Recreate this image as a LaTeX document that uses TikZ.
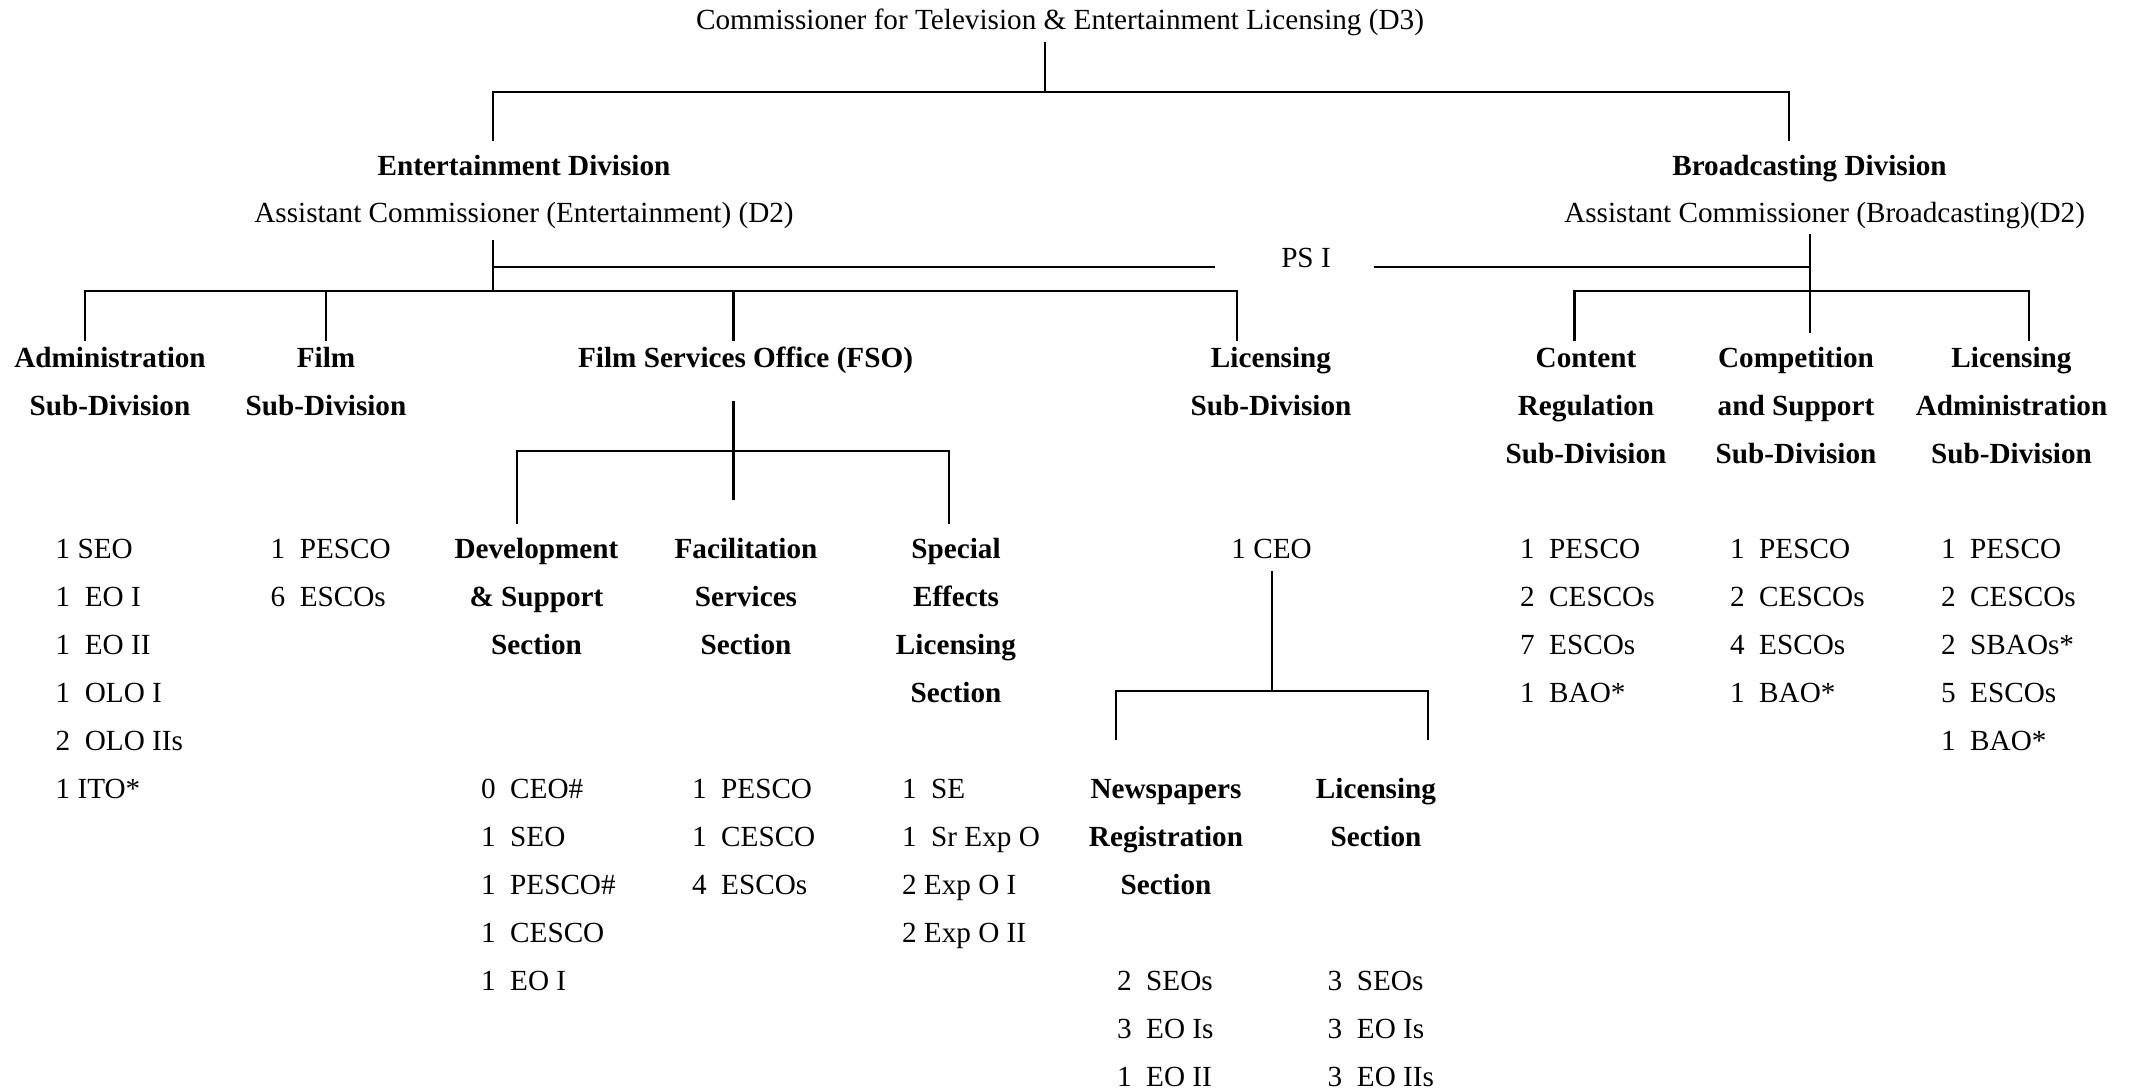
\documentclass[tikz,border=0pt]{standalone}
\usepackage{fontspec}
\setmainfont{Liberation Serif}
\newcommand{\cstack}[1]{\begin{tabular}[t]{@{}c@{}}#1\end{tabular}}
\newcommand{\lstack}[1]{\begin{tabular}[t]{@{}l@{}}#1\end{tabular}}
\begin{document}
\begin{tikzpicture}[x=0.5pt,y=-0.5pt,
  txt/.style={inner sep=0pt,outer sep=0pt,font=\fontsize{14.6}{24}\selectfont},
  hd/.style={txt,font=\fontsize{14.6}{24}\selectfont\bfseries},
  conn/.style={line width=1.1pt,line cap=rect}]
\useasboundingbox[fill=white] (0,0) rectangle (2132,1092);
% ---- texts
\node[txt,anchor=base] (title) at (1060,29) {Commissioner for Television \& Entertainment Licensing (D3)};
\node[hd,anchor=base] (entdiv) at (524,175) {Entertainment Division};
\node[txt,anchor=base] (entac) at (524,222) {Assistant Commissioner (Entertainment) (D2)};
\node[hd,anchor=base] (brdiv) at (1809.5,175) {Broadcasting Division};
\node[txt,anchor=base] (brac) at (1824.6,222) {Assistant Commissioner (Broadcasting)(D2)};
\node[txt,anchor=base] (psi) at (1306,267) {PS I};
% level 2
\node[hd,anchor=base] (admin) at (110,367) {\cstack{Administration\\Sub-Division}};
\node[hd,anchor=base] (film) at (326,367) {\cstack{Film\\Sub-Division}};
\node[hd,anchor=base] (fso) at (745.5,367) {Film Services Office (FSO)};
\node[hd,anchor=base] (licsub) at (1271,367) {\cstack{Licensing\\Sub-Division}};
\node[hd,anchor=base] (content) at (1586,367) {\cstack{Content\\Regulation\\Sub-Division}};
\node[hd,anchor=base] (compet) at (1796,367) {\cstack{Competition\\and Support\\Sub-Division}};
\node[hd,anchor=base] (licadm) at (2011.5,367) {\cstack{Licensing\\Administration\\Sub-Division}};
% lists and sections
\node[txt,anchor=base west] (adminlist) at (55.7,558) {\lstack{1 SEO\\1~~EO I\\1~~EO II\\1~~OLO I\\2~~OLO IIs\\1 ITO*}};
\node[txt,anchor=base west] (filmlist) at (270.6,558) {\lstack{1~~PESCO\\6~~ESCOs}};
\node[hd,anchor=base] (dev) at (536.5,558) {\cstack{Development\\\& Support\\Section}};
\node[hd,anchor=base] (facil) at (746,558) {\cstack{Facilitation\\Services\\Section}};
\node[hd,anchor=base] (special) at (956,558) {\cstack{Special\\Effects\\Licensing\\Section}};
\node[txt,anchor=base] (ceo) at (1271.6,558) {1 CEO};
\node[txt,anchor=base west] (contentlist) at (1520,558) {\lstack{1~~PESCO\\2~~CESCOs\\7~~ESCOs\\1~~BAO*}};
\node[txt,anchor=base west] (competlist) at (1730,558) {\lstack{1~~PESCO\\2~~CESCOs\\4~~ESCOs\\1~~BAO*}};
\node[txt,anchor=base west] (licadmlist) at (1941,558) {\lstack{1~~PESCO\\2~~CESCOs\\2~~SBAOs*\\5~~ESCOs\\1~~BAO*}};
\node[txt,anchor=base west] (devlist) at (481,798) {\lstack{0~~CEO\#\\1~~SEO\\1~~PESCO\#\\1~~CESCO\\1~~EO I}};
\node[txt,anchor=base west] (faclist) at (692,798) {\lstack{1~~PESCO\\1~~CESCO\\4~~ESCOs}};
\node[txt,anchor=base west] (speclist) at (902,798) {\lstack{1~~SE\\1~~Sr Exp O\\2 Exp O I\\2 Exp O II}};
\node[hd,anchor=base] (news) at (1166,798) {\cstack{Newspapers\\Registration\\Section}};
\node[hd,anchor=base] (licsec) at (1376,798) {\cstack{Licensing\\Section}};
\node[txt,anchor=base west] (newslist) at (1117,990) {\lstack{2~~SEOs\\3~~EO Is\\1~~EO II}};
\node[txt,anchor=base west] (licseclist) at (1327.7,990) {\lstack{3~~SEOs\\3~~EO Is\\3~~EO IIs}};
% ---- connector coordinates
\coordinate (t0) at (1045,43);   \coordinate (t1) at (1045,92);
\coordinate (tl) at (493,92);    \coordinate (tr) at (1789,92);
\coordinate (tld) at (493,140);  \coordinate (trd) at (1789,140);
\coordinate (e0) at (493,241);   \coordinate (e1) at (493,291);
\coordinate (p0) at (493,267);   \coordinate (p1) at (1214,267);
\coordinate (p2) at (1375,267);  \coordinate (p3) at (1809,267);
\coordinate (b0) at (1810,235);  \coordinate (b1) at (1810,332);
\coordinate (la) at (85,291);    \coordinate (lb) at (1237,291);
\coordinate (la2) at (85,340);   \coordinate (lf) at (326,291);  \coordinate (lf2) at (326,340);
\coordinate (lo) at (733.5,291); \coordinate (lo2) at (733.5,340);
\coordinate (lb2) at (1237,340);
\coordinate (ra) at (1574.5,291); \coordinate (rb) at (2029,291);
\coordinate (ra2) at (1574.5,340); \coordinate (rb2) at (2029,340);
\coordinate (f0) at (733.5,402); \coordinate (f1) at (733.5,499);
\coordinate (fa) at (517,451);   \coordinate (fb) at (949,451);
\coordinate (fa2) at (517,523);  \coordinate (fb2) at (949,523);
\coordinate (c0) at (1272,572);  \coordinate (c1) at (1272,691);
\coordinate (ca) at (1115.6,691); \coordinate (cb) at (1428,691);
\coordinate (ca2) at (1115.6,739); \coordinate (cb2) at (1428,739);
% ---- connectors
\draw[conn] (t0) -- (t1);
\draw[conn] (tld) -- (tl) -- (tr) -- (trd);
\draw[conn] (e0) -- (e1);
\draw[conn] (p0) -- (p1);
\draw[conn] (p2) -- (p3);
\draw[conn] (b0) -- (b1);
\draw[conn] (la2) -- (la) -- (lb) -- (lb2);
\draw[conn] (lf) -- (lf2);
\draw[conn] (lo) -- (lo2);
\draw[conn] (ra2) -- (ra) -- (rb) -- (rb2);
\draw[conn] (f0) -- (f1);
\draw[conn] (fa2) -- (fa) -- (fb) -- (fb2);
\draw[conn] (c0) -- (c1);
\draw[conn] (ca2) -- (ca) -- (cb) -- (cb2);
\end{tikzpicture}
\end{document}
